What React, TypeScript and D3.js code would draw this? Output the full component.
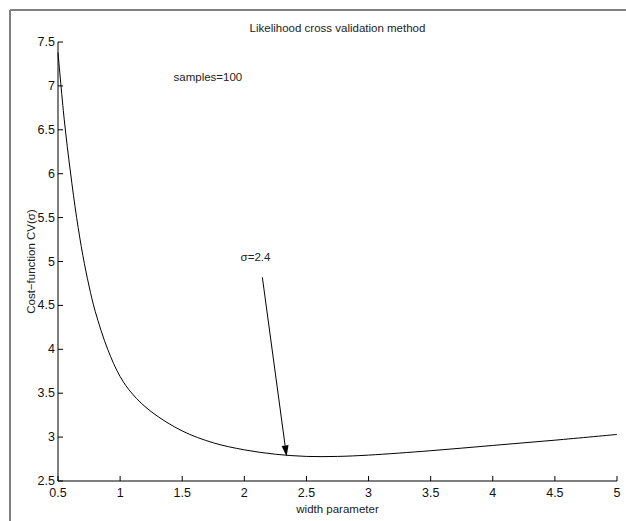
import React from "react";
import * as d3 from "d3";

const widthParam = [0.5, 0.55, 0.6, 0.65, 0.7, 0.75, 0.8, 0.9, 1.0, 1.1, 1.25, 1.5, 1.75, 2.0, 2.25, 2.5, 2.75, 3.0, 3.5, 4.0, 4.5, 5.0];
const costValues = [7.38, 6.62, 6.02, 5.5, 5.07, 4.72, 4.43, 4.0, 3.69, 3.49, 3.29, 3.07, 2.935, 2.855, 2.805, 2.78, 2.78, 2.795, 2.845, 2.905, 2.965, 3.03];
const xTicks = [0.5, 1, 1.5, 2, 2.5, 3, 3.5, 4, 4.5, 5];
const yTicks = [2.5, 3, 3.5, 4, 4.5, 5, 5.5, 6, 6.5, 7, 7.5];
const titleText = "Likelihood cross validation method";
const xLabel = "width parameter";
const yLabel = "Cost\u2212function CV(\u03c3)";
const samplesNote = { x: 1.43, y: 7.1, text: "samples=100" };
const sigmaNote = { x: 1.97, y: 5.05, text: "\u03c3=2.4" };
const arrowFrom = { x: 2.145, y: 4.82 };
const arrowTo = { x: 2.34, y: 2.78 };

export default function App() {
  const W = 626, H = 521;
  const x = d3.scaleLinear().domain([0.5, 5]).range([58, 617]);
  const y = d3.scaleLinear().domain([2.5, 7.5]).range([481, 42]);
  const pts = widthParam.map((v, i) => [v, costValues[i]] as [number, number]);
  const line = d3.line<[number, number]>().x(d => x(d[0])).y(d => y(d[1])).curve(d3.curveCatmullRom.alpha(0.5));
  const font = "'Liberation Sans', Arial, sans-serif";
  const ax0 = x(0.5), ay0 = y(2.5);

  const x1 = x(arrowFrom.x), y1 = y(arrowFrom.y), x2 = x(arrowTo.x), y2 = y(arrowTo.y);
  const ang = Math.atan2(y2 - y1, x2 - x1);
  const hl = 11, hw = 3.5;
  const bx = x2 - hl * Math.cos(ang), by = y2 - hl * Math.sin(ang);
  const px = -Math.sin(ang), py = Math.cos(ang);
  const head = `M${x2},${y2}L${bx + px * hw},${by + py * hw}L${bx - px * hw},${by - py * hw}Z`;

  return (
    <svg width={W} height={H} style={{ position: "absolute", left: 0, top: 0, background: "#fff" }} fontFamily={font}>
      <rect x={0} y={0} width={W} height={H} fill="#fff" />
      <line x1={10} y1={10} x2={W} y2={10} stroke="#808080" strokeWidth={2} />
      <line x1={10} y1={10} x2={10} y2={H} stroke="#808080" strokeWidth={2} />
      <text x={(ax0 + x(5)) / 2} y={32} fontSize={11.5} textAnchor="middle" fill="#222">{titleText}</text>
      <line x1={ax0} y1={y(7.5)} x2={ax0} y2={ay0} stroke="#000" strokeWidth={1} />
      <line x1={ax0} y1={ay0} x2={x(5)} y2={ay0} stroke="#000" strokeWidth={1} />
      {xTicks.map(t => (
        <g key={"x" + t}>
          <line x1={x(t)} x2={x(t)} y1={ay0} y2={ay0 - 5} stroke="#000" />
          <text x={x(t)} y={ay0 + 16} fontSize={12.5} textAnchor="middle" fill="#111">{String(t)}</text>
        </g>
      ))}
      {yTicks.map(t => (
        <g key={"y" + t}>
          <line x1={ax0} x2={ax0 + 5} y1={y(t)} y2={y(t)} stroke="#000" />
          <text x={ax0 - 3} y={y(t) + 4} fontSize={12.5} textAnchor="end" fill="#111">{String(t)}</text>
        </g>
      ))}
      <text x={(ax0 + x(5)) / 2} y={513} fontSize={11.5} textAnchor="middle" fill="#222">{xLabel}</text>
      <text transform={`translate(35,${(y(7.5) + ay0) / 2}) rotate(-90)`} fontSize={11.5} textAnchor="middle" fill="#222">{yLabel}</text>
      <path d={line(pts) || ""} fill="none" stroke="#000" strokeWidth={1} />
      <text x={x(samplesNote.x)} y={y(samplesNote.y) + 4} fontSize={11.5} fill="#222">{samplesNote.text}</text>
      <text x={x(sigmaNote.x)} y={y(sigmaNote.y) + 4} fontSize={11.5} fill="#222">{sigmaNote.text}</text>
      <line x1={x1} y1={y1} x2={bx} y2={by} stroke="#000" strokeWidth={1} />
      <path d={head} fill="#000" />
    </svg>
  );
}
